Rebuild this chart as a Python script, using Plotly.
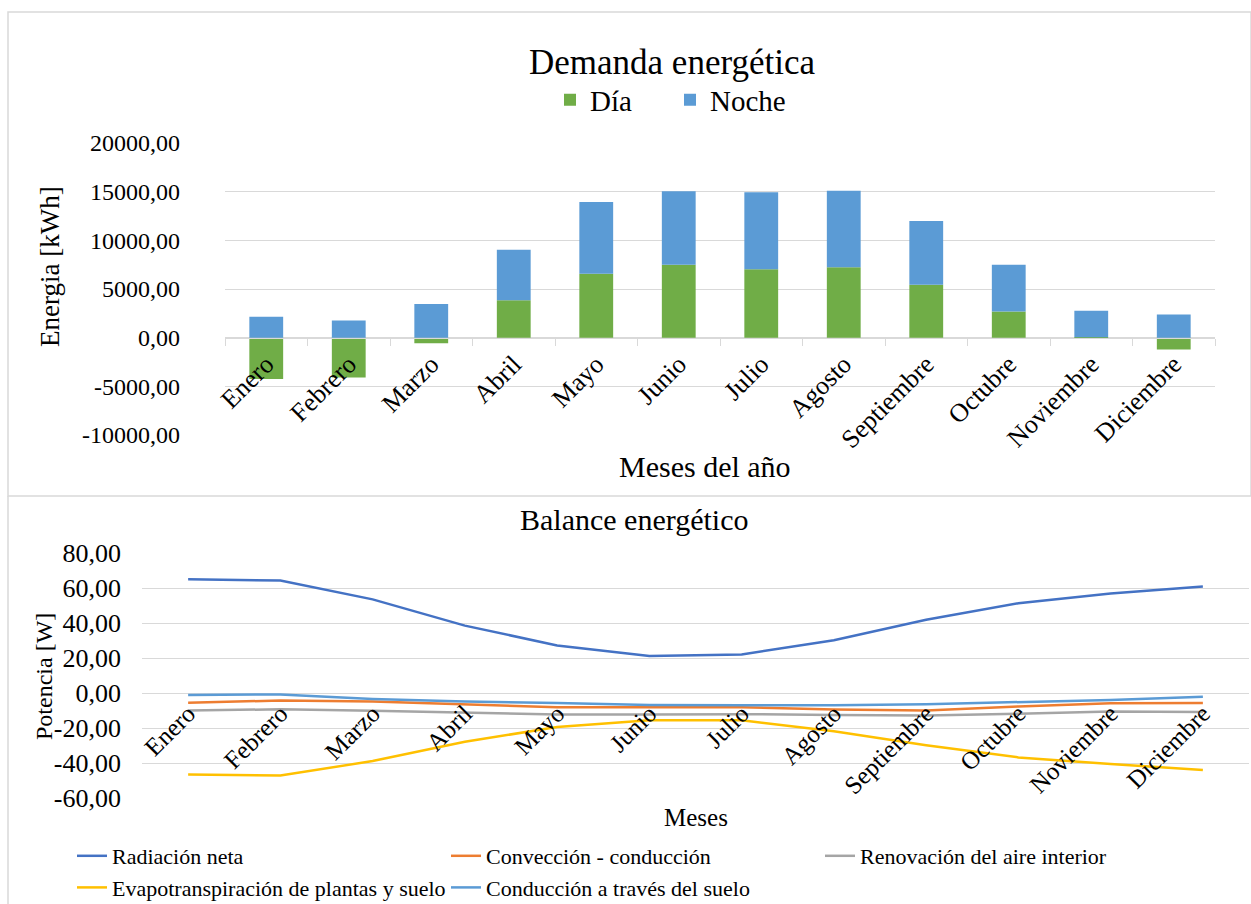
import plotly.graph_objects as go

W, H = 1251, 904

meses = ["Enero", "Febrero", "Marzo", "Abril", "Mayo", "Junio", "Julio",
         "Agosto", "Septiembre", "Octubre", "Noviembre", "Diciembre"]

# Demanda energética [kWh]
dia = [-4245, -4080, -571, 3845, 6569, 7487, 7038, 7242, 5447, 2693, 30, -1224]
noche = [2143, 1775, 3468, 5200, 7374, 7548, 7895, 7854, 6528, 4794, 2723, 2387]

# Balance energético [W]
radiacion = [65.0, 64.3, 53.5, 38.5, 27.2, 21.2, 22.0, 30.2, 41.8, 51.3, 56.9, 60.8]
conveccion = [-5.5, -4.3, -4.9, -6.6, -8.1, -8.1, -8.2, -9.4, -10.0, -7.7, -5.8, -5.7]
renovacion = [-10.0, -9.3, -10.2, -11.3, -12.3, -12.3, -12.1, -12.5, -12.8, -11.9, -10.6, -10.9]
evapo = [-46.5, -47.2, -38.9, -27.9, -19.4, -15.6, -15.6, -21.9, -29.8, -36.8, -40.6, -44.0]
conduccion = [-1.1, -0.8, -3.4, -4.9, -5.7, -6.8, -7.0, -7.0, -6.4, -5.3, -4.0, -2.1]

y1_vals = [-10000, -5000, 0, 5000, 10000, 15000, 20000]
y1_text = ["-10000,00", "-5000,00", "0,00", "5000,00", "10000,00", "15000,00", "20000,00"]
y2_vals = [-60, -40, -20, 0, 20, 40, 60, 80]
y2_text = ["-60,00", "-40,00", "-20,00", "0,00", "20,00", "40,00", "60,00", "80,00"]

FONT = "Liberation Serif"
GRID = "#D9D9D9"


def px(x):
    return x / W


def py(y):
    return 1 - y / H


# plot areas in pixels
top_x = (225, 1215)
top_y = (143, 435)
bot_x = (142, 1249)
bot_y = (553, 798)

fig = go.Figure()

fig.add_trace(go.Bar(x=meses, y=dia, name="Día", marker_color="#70AD47",
                     marker_line_width=0, xaxis="x", yaxis="y", legend="legend"))
fig.add_trace(go.Bar(x=meses, y=noche, name="Noche", marker_color="#5B9BD5",
                     marker_line_width=0, xaxis="x", yaxis="y", legend="legend"))

series = [
    ("Radiación neta", radiacion, "#4472C4"),
    ("Convección - conducción", conveccion, "#ED7D31"),
    ("Renovación del aire interior", renovacion, "#A5A5A5"),
    ("Evapotranspiración de plantas y suelo", evapo, "#FFC000"),
    ("Conducción a través del suelo", conduccion, "#5B9BD5"),
]
for name, vals, col in series:
    fig.add_trace(go.Scatter(x=meses, y=vals, name=name, mode="lines",
                             line=dict(color=col, width=2.5),
                             xaxis="x2", yaxis="y2", legend="legend2"))

y1_range = [-10000, 20000]
y2_range = [-60, 80]
top_dom = [py(top_y[1]), py(top_y[0])]
bot_dom = [py(bot_y[1]), py(bot_y[0])]
zero1 = top_dom[0] + (0 - y1_range[0]) / (y1_range[1] - y1_range[0]) * (top_dom[1] - top_dom[0])
zero2 = bot_dom[0] + (0 - y2_range[0]) / (y2_range[1] - y2_range[0]) * (bot_dom[1] - bot_dom[0])

fig.update_layout(
    template="none",
    width=W, height=H,
    margin=dict(l=0, r=0, t=0, b=0, pad=0, autoexpand=False),
    paper_bgcolor="white", plot_bgcolor="white",
    font=dict(family=FONT, color="#000000"),
    barmode="relative", bargap=0.59,
    showlegend=True,
    xaxis=dict(domain=[px(top_x[0]), px(top_x[1])], anchor="free", position=zero1,
               type="category", range=[-0.5, len(meses) - 0.5],
               showgrid=False, showline=True, linecolor=GRID, linewidth=1,
               ticks="outside", tickson="boundaries", ticklen=7, tickcolor=GRID,
               tickangle=-45, tickfont=dict(size=26, family=FONT, color="#000000"),
               zeroline=False, automargin=False),
    yaxis=dict(domain=top_dom, range=y1_range, anchor="x",
               tickvals=y1_vals, ticktext=y1_text,
               tickfont=dict(size=24, family=FONT, color="#000000"),
               showgrid=True, gridcolor=GRID, gridwidth=1, zeroline=False, showline=False,
               ticks="", ticklabelstandoff=44, automargin=False),
    xaxis2=dict(domain=[px(bot_x[0]), px(bot_x[1])], anchor="free", position=zero2,
                type="category", range=[-0.5, len(meses) - 0.5],
                showgrid=False, showline=False, ticks="",
                tickangle=-45, tickfont=dict(size=25, family=FONT, color="#000000"),
                zeroline=False, automargin=False),
    yaxis2=dict(domain=bot_dom, range=y2_range, anchor="x2",
                tickvals=y2_vals, ticktext=y2_text,
                tickfont=dict(size=26, family=FONT, color="#000000"),
                showgrid=True, gridcolor=GRID, gridwidth=1, zeroline=False, showline=False,
                ticks="", ticklabelstandoff=20, automargin=False),
    legend=dict(orientation="h", x=px(550), xanchor="left", y=py(100), yanchor="middle",
                font=dict(size=29, family=FONT, color="#000000"), entrywidth=75,
                entrywidthmode="pixels", traceorder="normal", bgcolor="rgba(0,0,0,0)"),
    legend2=dict(orientation="h", x=px(72), xanchor="left", y=py(872), yanchor="middle",
                 font=dict(size=22, family=FONT, color="#000000"), entrywidth=329,
                 entrywidthmode="pixels", traceorder="normal", bgcolor="rgba(0,0,0,0)",
                 tracegroupgap=0),
)

annotations = [
    dict(text="Demanda energética", x=px(672), y=py(62), font=dict(size=35)),
    dict(text="Meses del año", x=px(705), y=py(466), font=dict(size=30)),
    dict(text="Energia [kWh]", x=px(50), y=py(266), font=dict(size=27), textangle=-90),
    dict(text="Balance energético", x=px(634), y=py(519), font=dict(size=30)),
    dict(text="Meses", x=px(696), y=py(817), font=dict(size=25)),
    dict(text="Potencia [W]", x=px(44), y=py(677), font=dict(size=24), textangle=-90),
]
for a in annotations:
    a.update(xref="paper", yref="paper", showarrow=False, xanchor="center", yanchor="middle")
    a["font"]["family"] = FONT
    a["font"]["color"] = "#000000"
fig.update_layout(annotations=annotations)

# panel borders
shapes = [
    dict(type="rect", x0=px(8), x1=px(1251), y0=py(496), y1=py(12),
         line=dict(color=GRID, width=1.5)),
    dict(type="line", x0=px(8), x1=px(8), y0=py(904), y1=py(496),
         line=dict(color=GRID, width=1.5)),
]
for s in shapes:
    s.update(xref="paper", yref="paper", layer="below")
fig.update_layout(shapes=shapes)

fig.write_html("out.html")
